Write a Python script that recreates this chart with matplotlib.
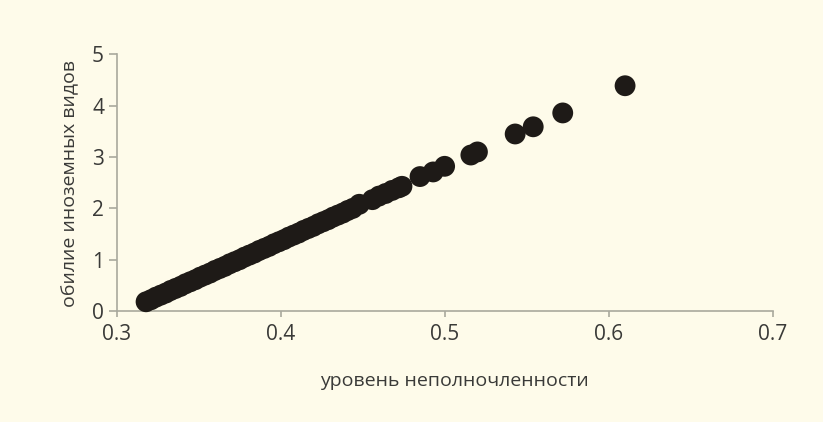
import matplotlib.pyplot as plt

# values
x_vals = [0.318, 0.321, 0.324, 0.327, 0.330, 0.333, 0.336, 0.339, 0.342, 0.345,
          0.348, 0.351, 0.354, 0.357, 0.360, 0.363, 0.366, 0.369, 0.372, 0.375,
          0.378, 0.381, 0.384, 0.387, 0.390, 0.393, 0.396, 0.399, 0.402, 0.405,
          0.408, 0.411, 0.414, 0.417, 0.420, 0.423, 0.426, 0.429, 0.432, 0.435,
          0.438, 0.441, 0.444, 0.448, 0.456, 0.460, 0.464, 0.468, 0.472, 0.474,
          0.485, 0.493, 0.500, 0.516, 0.520, 0.543, 0.554, 0.572, 0.610]
y_vals = [0.18, 0.22, 0.27, 0.31, 0.35, 0.40, 0.44, 0.48, 0.53, 0.57,
          0.61, 0.66, 0.70, 0.74, 0.79, 0.83, 0.87, 0.92, 0.96, 1.00,
          1.05, 1.09, 1.13, 1.18, 1.22, 1.26, 1.31, 1.35, 1.39, 1.44,
          1.48, 1.52, 1.57, 1.61, 1.65, 1.70, 1.74, 1.78, 1.83, 1.87,
          1.91, 1.96, 2.00, 2.08, 2.17, 2.24, 2.29, 2.35, 2.40, 2.43,
          2.62, 2.71, 2.82, 3.04, 3.10, 3.45, 3.59, 3.86, 4.39]

x_ticks = [0.3, 0.4, 0.5, 0.6, 0.7]
y_ticks = [0, 1, 2, 3, 4, 5]
x_label = "уровень неполночленности"
y_label = "обилие иноземных видов"

bg = "#fefbea"
axis_col = "#a9a99d"
text_col = "#3a3a38"

plt.rcParams["font.family"] = ["Open Sans", "DejaVu Sans"]

fig = plt.figure(figsize=(8.23, 4.22), dpi=100, facecolor=bg)
ax = fig.add_axes([0.1416, 0.263, 0.7973, 0.608], facecolor=bg)

ax.scatter(x_vals, y_vals, s=225, color="#1e1a17", edgecolors="none",
           clip_on=False, zorder=3)

ax.set_xlim(0.3, 0.7)
ax.set_ylim(0, 5)
ax.set_xticks(x_ticks)
ax.set_xticklabels([str(v) for v in x_ticks])
ax.set_yticks(y_ticks)

for s in ["top", "right"]:
    ax.spines[s].set_visible(False)
for s in ["left", "bottom"]:
    ax.spines[s].set_color(axis_col)
    ax.spines[s].set_linewidth(1.2)

ax.tick_params(axis="x", length=4, width=1.2, color=axis_col, labelsize=15,
               labelcolor=text_col, pad=5)
ax.tick_params(axis="y", length=6, width=1.2, color=axis_col, labelsize=15,
               labelcolor=text_col, pad=3)

fig.text(0.552, 0.098, x_label, ha="center", va="center", fontsize=14,
         color=text_col)
fig.text(0.085, 0.565, y_label, ha="center", va="center", rotation=90,
         fontsize=14, color=text_col)

fig.savefig("out.png", dpi=100, facecolor=bg)
